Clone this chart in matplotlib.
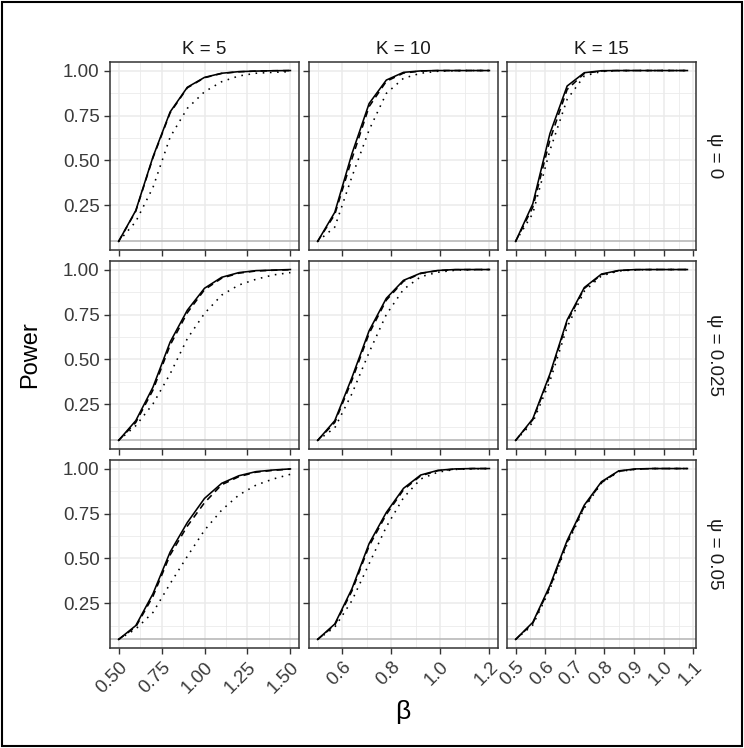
import matplotlib
matplotlib.use("Agg")
import matplotlib.pyplot as plt
from matplotlib.patches import Rectangle
from matplotlib.ticker import MultipleLocator

plt.rcParams['font.family'] = ['Liberation Sans', 'DejaVu Sans']

# beta grid for each K (11 points each)
beta_k5 = [0.5, 0.6, 0.7, 0.8, 0.9, 1.0, 1.1, 1.2, 1.3, 1.4, 1.5]
beta_k10 = [0.5, 0.57, 0.64, 0.71, 0.78, 0.85, 0.92, 0.99, 1.06, 1.13, 1.2]
beta_k15 = [0.5, 0.558, 0.616, 0.674, 0.732, 0.79, 0.848, 0.906, 0.964, 1.022, 1.08]

k_labels = ["K = 5", "K = 10", "K = 15"]
psi_labels = ["ψ = 0", "ψ = 0.025", "ψ = 0.05"]

# psi = 0
k5_psi0_solid = [0.05, 0.222, 0.52, 0.77, 0.907, 0.962, 0.985, 0.994, 0.997, 0.999, 1.0]
k5_psi0_dashed = [0.05, 0.218, 0.515, 0.765, 0.904, 0.96, 0.984, 0.993, 0.997, 0.999, 1.0]
k5_psi0_dotted = [0.05, 0.16, 0.35, 0.63, 0.79, 0.882, 0.938, 0.97, 0.985, 0.99, 0.994]
k10_psi0_solid = [0.05, 0.212, 0.538, 0.817, 0.947, 0.99, 0.998, 1.0, 1.0, 1.0, 1.0]
k10_psi0_dashed = [0.05, 0.20, 0.51, 0.80, 0.94, 0.986, 0.997, 1.0, 1.0, 1.0, 1.0]
k10_psi0_dotted = [0.05, 0.13, 0.41, 0.67, 0.873, 0.957, 0.985, 0.996, 0.999, 1.0, 1.0]
k15_psi0_solid = [0.05, 0.259, 0.65, 0.914, 0.988, 0.999, 1.0, 1.0, 1.0, 1.0, 1.0]
k15_psi0_dashed = [0.05, 0.24, 0.615, 0.895, 0.984, 0.998, 1.0, 1.0, 1.0, 1.0, 1.0]
k15_psi0_dotted = [0.05, 0.205, 0.557, 0.84, 0.97, 0.995, 0.999, 1.0, 1.0, 1.0, 1.0]

# psi = 0.025
k5_psi025_solid = [0.05, 0.16, 0.346, 0.597, 0.774, 0.896, 0.957, 0.983, 0.994, 0.997, 1.0]
k5_psi025_dashed = [0.05, 0.15, 0.33, 0.58, 0.76, 0.888, 0.952, 0.98, 0.992, 0.996, 0.999]
k5_psi025_dotted = [0.05, 0.132, 0.253, 0.42, 0.616, 0.756, 0.858, 0.914, 0.946, 0.97, 0.983]
k10_psi025_solid = [0.05, 0.16, 0.40, 0.66, 0.84, 0.94, 0.98, 0.995, 1.0, 1.0, 1.0]
k10_psi025_dashed = [0.05, 0.15, 0.385, 0.645, 0.83, 0.935, 0.978, 0.994, 0.999, 1.0, 1.0]
k10_psi025_dotted = [0.05, 0.12, 0.31, 0.54, 0.75, 0.89, 0.96, 0.985, 0.996, 0.999, 1.0]
k15_psi025_solid = [0.05, 0.17, 0.42, 0.72, 0.90, 0.975, 0.995, 1.0, 1.0, 1.0, 1.0]
k15_psi025_dashed = [0.05, 0.165, 0.41, 0.71, 0.895, 0.972, 0.994, 0.999, 1.0, 1.0, 1.0]
k15_psi025_dotted = [0.05, 0.15, 0.38, 0.68, 0.88, 0.965, 0.992, 0.998, 1.0, 1.0, 1.0]

# psi = 0.05
k5_psi05_solid = [0.05, 0.127, 0.304, 0.536, 0.70, 0.834, 0.918, 0.96, 0.983, 0.992, 0.998]
k5_psi05_dashed = [0.05, 0.12, 0.29, 0.52, 0.68, 0.81, 0.91, 0.955, 0.98, 0.99, 0.997]
k5_psi05_dotted = [0.05, 0.108, 0.20, 0.36, 0.512, 0.657, 0.769, 0.853, 0.908, 0.942, 0.968]
k10_psi05_solid = [0.05, 0.136, 0.332, 0.583, 0.756, 0.89, 0.964, 0.99, 0.998, 1.0, 1.0]
k10_psi05_dashed = [0.05, 0.13, 0.32, 0.57, 0.745, 0.882, 0.96, 0.988, 0.997, 1.0, 1.0]
k10_psi05_dotted = [0.05, 0.118, 0.266, 0.471, 0.676, 0.838, 0.942, 0.98, 0.995, 0.998, 1.0]
k15_psi05_solid = [0.05, 0.145, 0.35, 0.60, 0.797, 0.927, 0.987, 0.998, 1.0, 1.0, 1.0]
k15_psi05_dashed = [0.05, 0.14, 0.34, 0.59, 0.79, 0.922, 0.985, 0.997, 1.0, 1.0, 1.0]
k15_psi05_dotted = [0.05, 0.13, 0.33, 0.58, 0.78, 0.92, 0.983, 0.996, 1.0, 1.0, 1.0]

alpha_level = 0.05

betas = [beta_k5, beta_k10, beta_k15]
panels = [
    [(k5_psi0_solid, k5_psi0_dashed, k5_psi0_dotted),
     (k10_psi0_solid, k10_psi0_dashed, k10_psi0_dotted),
     (k15_psi0_solid, k15_psi0_dashed, k15_psi0_dotted)],
    [(k5_psi025_solid, k5_psi025_dashed, k5_psi025_dotted),
     (k10_psi025_solid, k10_psi025_dashed, k10_psi025_dotted),
     (k15_psi025_solid, k15_psi025_dashed, k15_psi025_dotted)],
    [(k5_psi05_solid, k5_psi05_dashed, k5_psi05_dotted),
     (k10_psi05_solid, k10_psi05_dashed, k10_psi05_dotted),
     (k15_psi05_solid, k15_psi05_dashed, k15_psi05_dotted)],
]
x_major = [0.25, 0.2, 0.1]
x_fmt = ["{:.2f}", "{:.1f}", "{:.1f}"]

W, H = 744, 748
fig = plt.figure(figsize=(W / 100, H / 100), dpi=100)
fig.patches.append(Rectangle((2 / W, 2 / H), 1 - 4 / W, 1 - 4 / H, transform=fig.transFigure,
                             fill=False, edgecolor="black", linewidth=1.5))

col_left = [110, 309, 507]
row_top = [62, 261, 460]
pw, ph = 189, 188

styles = ["-", (0, (4, 3)), (0, (1, 3.5))]

for r in range(3):
    for c in range(3):
        ax = fig.add_axes([col_left[c] / W, 1 - (row_top[r] + ph) / H, pw / W, ph / H])
        xs = betas[c]
        ax.axhline(alpha_level, color="#b3b3b3", lw=1.1, zorder=2)
        for ys, ls in zip(panels[r][c], styles):
            ax.plot(xs, ys, color="black", lw=1.15, linestyle=ls, zorder=3)
        span = xs[-1] - xs[0]
        ax.set_xlim(xs[0] - 0.05 * span, xs[-1] + 0.05 * span)
        ax.set_ylim(0.0025, 1.0475)
        ax.xaxis.set_major_locator(MultipleLocator(x_major[c]))
        ax.xaxis.set_minor_locator(MultipleLocator(x_major[c] / 2))
        ax.yaxis.set_major_locator(MultipleLocator(0.25))
        ax.yaxis.set_minor_locator(MultipleLocator(0.125))
        ax.grid(which="major", color="#ebebeb", lw=1.1, zorder=0)
        ax.grid(which="minor", color="#ebebeb", lw=0.6, zorder=0)
        ax.set_axisbelow(True)
        for s in ax.spines.values():
            s.set_color("#333333")
            s.set_linewidth(1.1)
        ax.tick_params(which="minor", length=0)
        ax.tick_params(which="major", length=4, width=1.0, color="#333333",
                       labelsize=13.5, labelcolor="#3a3a3a")
        yt = [0.25, 0.5, 0.75, 1.0]
        ax.set_yticks(yt)
        if c == 0:
            ax.set_yticklabels(["{:.2f}".format(v) for v in yt])
        else:
            ax.set_yticklabels([])
        if r == 2:
            ticks = [t for t in ax.get_xticks() if xs[0] - 1e-9 <= t <= ax.get_xlim()[1]]
            ax.set_xticks(ticks)
            ax.set_xticklabels([x_fmt[c].format(t) for t in ticks], rotation=45,
                               ha="right", va="top", rotation_mode="anchor")
        else:
            ax.tick_params(axis="x", labelbottom=False)
        if r == 0:
            ax.set_title(k_labels[c], fontsize=13.5, color="#1a1a1a", pad=6)
        if c == 2:
            ax.text(1.1, 0.5, psi_labels[r], transform=ax.transAxes, rotation=-90,
                    ha="center", va="center", fontsize=13.5, color="#1a1a1a")

fig.text(30 / W, 1 - 355 / H, "Power", rotation=90, ha="center", va="center", fontsize=17)
fig.text(403 / W, 1 - 712 / H, "β", ha="center", va="center", fontsize=19)

fig.savefig("out.png", dpi=100)
